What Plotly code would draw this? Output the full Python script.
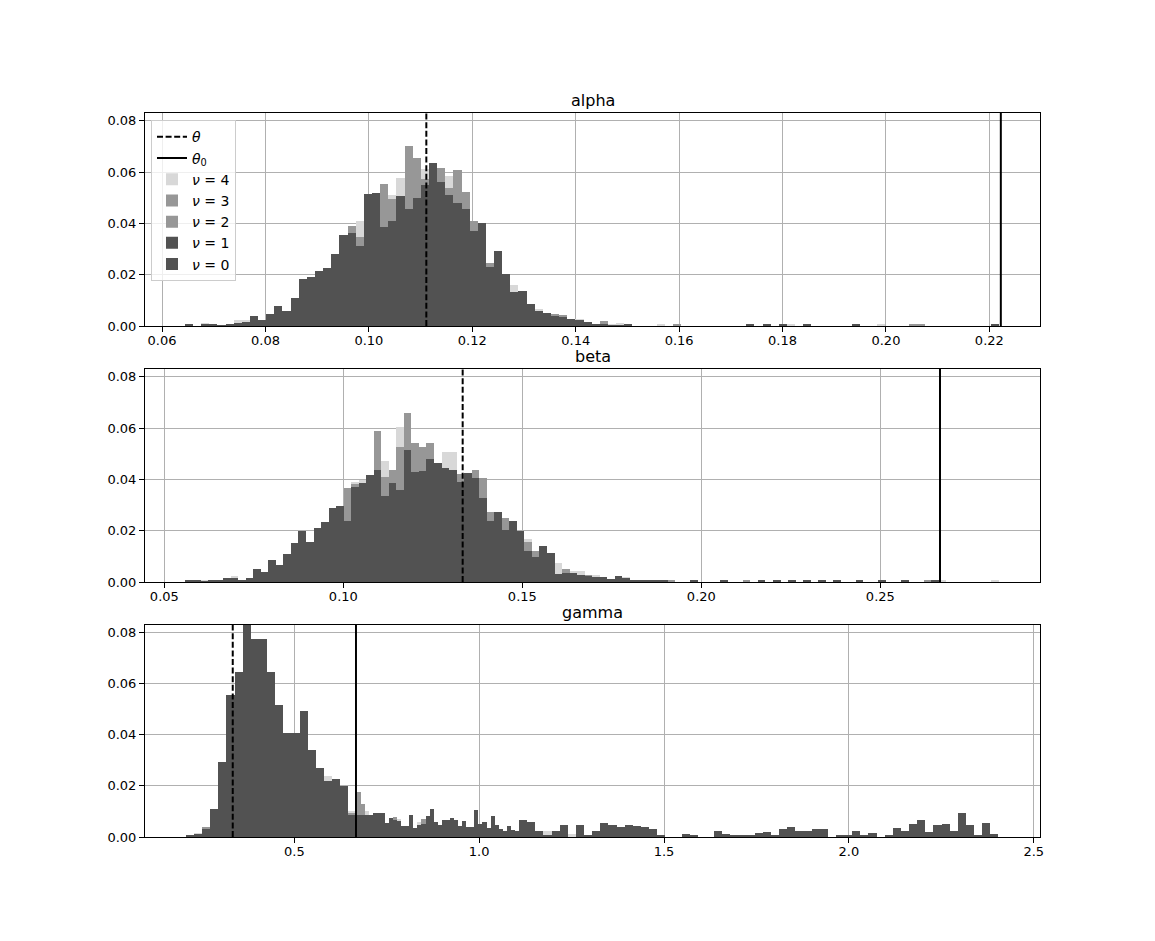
import plotly.graph_objects as go

# ---------------- data ----------------
params = ["alpha", "beta", "gamma"]
theta = [1 / 9, 2 / 15, 1 / 3]          # dashed line
theta0 = [2 / 9, 4 / 15, 2 / 3]         # solid line
nu_labels = ["4", "3", "2", "1", "0"]

x_ticks_alpha = [0.06, 0.08, 0.10, 0.12, 0.14, 0.16, 0.18, 0.20, 0.22]
x_ticks_beta = [0.05, 0.10, 0.15, 0.20, 0.25]
x_ticks_gamma = [0.5, 1.0, 1.5, 2.0, 2.5]
y_ticks = [0.00, 0.02, 0.04, 0.06, 0.08]

# histogram bin grids: (first edge, bin width)
alpha_bins = (0.0644, 0.001574)
beta_bins = (0.0559, 0.002104)
gamma_bins_wide = (0.2065, 0.02198)
gamma_bins_narrow = (0.2065, 0.01099)

alpha_nu0 = [
    0.0004, 0.0000, 0.0004, 0.0007, 0.0003, 0.0004, 0.0010, 0.0017, 0.0039, 0.0023,
    0.0046, 0.0078, 0.0058, 0.0110, 0.0185, 0.0190, 0.0215, 0.0227, 0.0281, 0.0356,
    0.0364, 0.0310, 0.0516, 0.0520, 0.0384, 0.0408, 0.0506, 0.0457, 0.0499, 0.0549,
    0.0637, 0.0560, 0.0510, 0.0480, 0.0457, 0.0369, 0.0401, 0.0228, 0.0293, 0.0202,
    0.0134, 0.0137, 0.0085, 0.0060, 0.0050, 0.0040, 0.0034, 0.0028, 0.0022, 0.0016,
    0.0008, 0.0006, 0.0002, 0.0001, 0.0004, 0, 0, 0, 0, 0,
    0, 0, 0, 0, 0, 0, 0, 0, 0, 0.0004,
    0, 0.0004, 0, 0.0004, 0, 0, 0.0004, 0, 0, 0,
    0, 0, 0.0008, 0, 0, 0, 0, 0, 0, 0,
    0, 0, 0, 0, 0, 0, 0, 0, 0, 0.0004,
]
alpha_nu1 = list(alpha_nu0)
alpha_nu3 = [
    0.0004, 0.0000, 0.0004, 0.0007, 0.0003, 0.0004, 0.0010, 0.0017, 0.0039, 0.0023,
    0.0046, 0.0078, 0.0058, 0.0110, 0.0185, 0.0190, 0.0215, 0.0227, 0.0281, 0.0356,
    0.0391, 0.0347, 0.0516, 0.0520, 0.0555, 0.0493, 0.0506, 0.0701, 0.0653, 0.0573,
    0.0637, 0.0614, 0.0538, 0.0606, 0.0522, 0.0410, 0.0401, 0.0245, 0.0293, 0.0202,
    0.0134, 0.0137, 0.0085, 0.0060, 0.0050, 0.0046, 0.0043, 0.0028, 0.0022, 0.0016,
    0.0008, 0.0020, 0.0002, 0.0001, 0.0004, 0, 0, 0, 0, 0,
    0.0007, 0, 0, 0, 0, 0, 0, 0, 0, 0.0004,
    0, 0.0004, 0, 0.0004, 0, 0, 0.0004, 0, 0, 0,
    0, 0, 0.0008, 0, 0, 0, 0, 0, 0, 0.0004,
    0.0008, 0, 0, 0, 0, 0, 0, 0, 0, 0.0004,
]
alpha_nu2 = list(alpha_nu3)
alpha_nu4 = [
    0.0004, 0.0000, 0.0010, 0.0007, 0.0003, 0.0004, 0.0023, 0.0023, 0.0039, 0.0023,
    0.0046, 0.0078, 0.0058, 0.0110, 0.0185, 0.0190, 0.0215, 0.0227, 0.0281, 0.0356,
    0.0364, 0.0410, 0.0516, 0.0520, 0.0384, 0.0512, 0.0575, 0.0457, 0.0499, 0.0612,
    0.0637, 0.0560, 0.0584, 0.0480, 0.0457, 0.0369, 0.0401, 0.0228, 0.0293, 0.0202,
    0.0158, 0.0137, 0.0085, 0.0065, 0.0050, 0.0040, 0.0034, 0.0028, 0.0026, 0.0016,
    0.0008, 0.0006, 0.0005, 0.0013, 0.0004, 0, 0, 0, 0.0004, 0,
    0, 0, 0, 0, 0, 0, 0, 0, 0, 0.0004,
    0, 0.0004, 0, 0.0004, 0.0004, 0, 0.0004, 0, 0, 0,
    0, 0, 0.0008, 0, 0, 0.0004, 0, 0, 0, 0,
    0, 0, 0, 0, 0, 0, 0, 0, 0, 0.0004,
]

beta_nu0 = [
    0.0009, 0.0009, 0.0003, 0.0005, 0.0005, 0.0016, 0.0014, 0.0007, 0.0016, 0.0052,
    0.0039, 0.0084, 0.0068, 0.0110, 0.0153, 0.0199, 0.0157, 0.0211, 0.0232, 0.0288,
    0.0297, 0.0238, 0.0370, 0.0385, 0.0418, 0.0437, 0.0336, 0.0385, 0.0359, 0.0515,
    0.0428, 0.0433, 0.0480, 0.0463, 0.0446, 0.0437, 0.0389, 0.0424, 0.0405, 0.0327,
    0.0236, 0.0271, 0.0203, 0.0238, 0.0200, 0.0121, 0.0099, 0.0141, 0.0114, 0.0030,
    0.0035, 0.0035, 0.0029, 0.0025, 0.0020, 0.0020, 0.0010, 0.0025, 0.0015, 0.0007,
    0.0009, 0.0009, 0.0008, 0.0009, 0, 0, 0, 0.0005, 0, 0,
    0, 0.0005, 0, 0, 0, 0, 0.0005, 0, 0.0005, 0,
    0.0009, 0, 0.0005, 0, 0.0005, 0, 0.0005, 0, 0, 0.0005,
    0, 0, 0.0005, 0, 0, 0.0005, 0, 0, 0, 0.0005,
]
beta_nu1 = list(beta_nu0)
beta_nu3 = [
    0.0009, 0.0009, 0.0003, 0.0005, 0.0005, 0.0016, 0.0014, 0.0007, 0.0016, 0.0052,
    0.0039, 0.0084, 0.0068, 0.0110, 0.0153, 0.0199, 0.0157, 0.0211, 0.0232, 0.0288,
    0.0297, 0.0366, 0.0381, 0.0385, 0.0418, 0.0589, 0.0410, 0.0437, 0.0528, 0.0658,
    0.0541, 0.0526, 0.0541, 0.0463, 0.0446, 0.0437, 0.0420, 0.0424, 0.0437, 0.0405,
    0.0272, 0.0271, 0.0249, 0.0238, 0.0200, 0.0157, 0.0121, 0.0141, 0.0114, 0.0030,
    0.0052, 0.0035, 0.0029, 0.0029, 0.0020, 0.0020, 0.0010, 0.0025, 0.0015, 0.0007,
    0.0009, 0.0009, 0.0008, 0.0009, 0.0007, 0, 0, 0.0005, 0, 0,
    0, 0, 0, 0, 0.0009, 0, 0, 0, 0, 0,
    0, 0, 0, 0, 0, 0, 0, 0, 0, 0,
    0, 0, 0, 0, 0, 0, 0, 0, 0.0009, 0,
]
beta_nu2 = list(beta_nu3)
beta_nu4 = [
    0.0009, 0.0009, 0.0007, 0.0005, 0.0005, 0.0016, 0.0022, 0.0007, 0.0016, 0.0052,
    0.0039, 0.0084, 0.0068, 0.0110, 0.0153, 0.0199, 0.0157, 0.0211, 0.0232, 0.0288,
    0.0297, 0.0238, 0.0388, 0.0397, 0.0418, 0.0437, 0.0470, 0.0385, 0.0604, 0.0515,
    0.0428, 0.0433, 0.0480, 0.0463, 0.0505, 0.0505, 0.0389, 0.0424, 0.0405, 0.0327,
    0.0236, 0.0271, 0.0203, 0.0238, 0.0200, 0.0167, 0.0099, 0.0141, 0.0114, 0.0075,
    0.0035, 0.0044, 0.0044, 0.0025, 0.0027, 0.0020, 0.0010, 0.0025, 0.0020, 0.0007,
    0.0009, 0.0009, 0.0008, 0.0009, 0.0007, 0, 0, 0, 0, 0,
    0, 0, 0, 0, 0, 0, 0, 0, 0, 0,
    0, 0, 0, 0, 0, 0, 0, 0, 0, 0,
    0, 0, 0, 0, 0, 0, 0, 0, 0, 0,
    0.0005, 0, 0, 0, 0, 0, 0, 0.0005,
]

gamma_nu0 = [
    0.0005, 0.0012, 0.0031, 0.0111, 0.0292, 0.0556, 0.0645, 0.0860, 0.0776, 0.0776,
    0.0645, 0.0517, 0.0406, 0.0406, 0.0494, 0.0341, 0.0270, 0.0218, 0.0228, 0.0198,
    0.0085, 0.0085, 0.0085, 0.0093, 0.0055, 0.0066, 0.0044, 0.0042, 0.0035, 0.0050,
    0.0056, 0.0048, 0.0066, 0.0044, 0.0039, 0.0038, 0.0050, 0.0035, 0.0030, 0.0022,
    0.0022, 0.0068, 0.0060, 0.0025, 0.0005, 0.0025, 0.0048, 0.0000, 0.0048, 0.0007,
    0.0025, 0.0056, 0.0048, 0.0041, 0.0048, 0.0043, 0.0041, 0.0033, 0.0005, 0,
    0, 0.0013, 0.0005, 0, 0, 0.0025, 0.0013, 0.0009, 0.0009, 0.0009,
    0.0017, 0.0021, 0.0005, 0.0033, 0.0041, 0.0025, 0.0025, 0.0033, 0.0033, 0,
    0.0009, 0.0009, 0.0025, 0.0009, 0.0017, 0, 0.0005, 0.0037, 0.0025, 0.0052,
    0.0068, 0.0021, 0.0048, 0.0052, 0.0025, 0.0094, 0.0048, 0.0009, 0.0055, 0.0013,
]
gamma_nu1 = [
    0.0002, 0.0003, 0.0005, 0.0006, 0.0014, 0.0016, 0.0048, 0.0060, 0.0135, 0.0150,
    0.0270, 0.0290, 0.0320, 0.0330, 0.0420, 0.0410, 0.0380, 0.0395, 0.0385, 0.0370,
    0.0330, 0.0310, 0.0265, 0.0245, 0.0210, 0.0195, 0.0200, 0.0190, 0.0235, 0.0225,
    0.0170, 0.0160, 0.0135, 0.0125, 0.0110, 0.0100, 0.0105, 0.0110, 0.0095, 0.0090,
    0.0060, 0.0070, 0.0087, 0.0087, 0.0087, 0.0087, 0.0095, 0.0095, 0.0094, 0.0055,
    0.0074, 0.0068, 0.0061, 0.0044, 0.0042, 0.0087, 0.0035, 0.0048, 0.0051, 0.0083,
    0.0110, 0.0057, 0.0048, 0.0068, 0.0068, 0.0074, 0.0068, 0.0044, 0.0064, 0.0039,
    0.0039, 0.0106, 0.0052, 0.0060, 0.0036, 0.0083, 0.0048, 0.0031, 0.0022, 0.0042,
    0.0029, 0.0023, 0.0029, 0.0013, 0.0030, 0.0030, 0.0022, 0.0020, 0.0004, 0.0003,
    0.0012, 0.0010, 0.0024, 0.0022, 0, 0, 0.0024, 0.0020, 0.0004, 0.0003,
]
gamma_nu3 = [
    0.0002, 0.0003, 0.0005, 0.0006, 0.0039, 0.0039, 0.0048, 0.0060, 0.0135, 0.0150,
    0.0270, 0.0290, 0.0320, 0.0330, 0.0420, 0.0410, 0.0380, 0.0395, 0.0385, 0.0370,
    0.0330, 0.0310, 0.0265, 0.0245, 0.0210, 0.0195, 0.0200, 0.0190, 0.0235, 0.0225,
    0.0170, 0.0160, 0.0135, 0.0125, 0.0110, 0.0100, 0.0105, 0.0110, 0.0095, 0.0090,
    0.0094, 0.0094, 0.0176, 0.0129, 0.0087, 0.0087, 0.0095, 0.0095, 0.0094, 0.0055,
    0.0074, 0.0077, 0.0061, 0.0044, 0.0042, 0.0087, 0.0035, 0.0048, 0.0070, 0.0083,
    0.0110, 0.0057, 0.0048, 0.0068, 0.0068, 0.0074, 0.0068, 0.0044, 0.0064, 0.0039,
    0.0039, 0.0106, 0.0052, 0.0060, 0.0036, 0.0083, 0.0048, 0.0031, 0.0022, 0.0042,
    0.0029, 0.0023, 0.0029, 0.0013, 0.0030, 0.0030, 0.0022, 0.0020, 0.0004, 0.0003,
    0.0012, 0.0010, 0.0024, 0.0022, 0, 0, 0.0024, 0.0020, 0.0004, 0.0003,
]
gamma_nu2 = list(gamma_nu3)
gamma_nu4 = [
    0.0002, 0.0003, 0.0015, 0.0015, 0.0014, 0.0016, 0.0048, 0.0060, 0.0135, 0.0150,
    0.0270, 0.0290, 0.0320, 0.0330, 0.0420, 0.0410, 0.0380, 0.0395, 0.0385, 0.0370,
    0.0330, 0.0310, 0.0265, 0.0245, 0.0210, 0.0195, 0.0200, 0.0190, 0.0235, 0.0225,
    0.0170, 0.0160, 0.0135, 0.0125, 0.0240, 0.0240, 0.0105, 0.0110, 0.0095, 0.0090,
    0.0103, 0.0103, 0.0087, 0.0087, 0.0100, 0.0087, 0.0095, 0.0095, 0.0094, 0.0055,
    0.0074, 0.0068, 0.0072, 0.0044, 0.0042, 0.0087, 0.0035, 0.0057, 0.0051, 0.0083,
    0.0110, 0.0057, 0.0048, 0.0068, 0.0068, 0.0074, 0.0068, 0.0044, 0.0064, 0.0039,
    0.0039, 0.0106, 0.0052, 0.0060, 0.0036, 0.0083, 0.0048, 0.0031, 0.0022, 0.0042,
    0.0029, 0.0023, 0.0032, 0.0013, 0.0030, 0.0030, 0.0022, 0.0020, 0.0025, 0.0025,
    0.0012, 0.0010, 0.0024, 0.0022, 0.0013, 0.0013, 0.0024, 0.0020, 0.0004, 0.0003,
]

# ---------------- figure ----------------
series = {
    "alpha": [(alpha_nu4, alpha_bins), (alpha_nu3, alpha_bins), (alpha_nu2, alpha_bins),
              (alpha_nu1, alpha_bins), (alpha_nu0, alpha_bins)],
    "beta": [(beta_nu4, beta_bins), (beta_nu3, beta_bins), (beta_nu2, beta_bins),
             (beta_nu1, beta_bins), (beta_nu0, beta_bins)],
    "gamma": [(gamma_nu4, gamma_bins_narrow), (gamma_nu3, gamma_bins_narrow),
              (gamma_nu2, gamma_bins_narrow), (gamma_nu1, gamma_bins_narrow),
              (gamma_nu0, gamma_bins_wide)],
}
x_ticks = [x_ticks_alpha, x_ticks_beta, x_ticks_gamma]
x_ranges = [[0.0567, 0.2298], [0.0446, 0.2946], [0.096, 2.517]]
tick_fmt = [".2f", ".2f", ".1f"]
y_domains = [[0.7058, 1.0], [0.3522, 0.6464], [0.0, 0.2928]]
Y_MAX = 0.0830

colors = ["#d8d8d8", "#979797", "#979797", "#525252", "#525252"]
FONT = "DejaVu Sans, Liberation Sans, sans-serif"

fig = go.Figure()

for p, name in enumerate(params):
    ax = "" if p == 0 else str(p + 1)
    for s, (heights, (start, width)) in enumerate(series[name]):
        centers = [start + width * (i + 0.5) for i in range(len(heights))]
        fig.add_trace(go.Bar(
            x=centers, y=heights, width=width,
            marker=dict(color=colors[s], line=dict(width=0)),
            name="<i>ν</i> = " + nu_labels[s],
            legendrank=3 + s, showlegend=(p == 0),
            xaxis="x" + ax, yaxis="y" + ax, hoverinfo="skip",
        ))
    fig.add_trace(go.Scatter(
        x=[theta[p], theta[p]], y=[0, Y_MAX], mode="lines",
        line=dict(color="black", width=2, dash="6px,2.6px"),
        name="<i>θ</i>", legendrank=1, showlegend=(p == 0),
        xaxis="x" + ax, yaxis="y" + ax, hoverinfo="skip",
    ))
    fig.add_trace(go.Scatter(
        x=[theta0[p], theta0[p]], y=[0, Y_MAX], mode="lines",
        line=dict(color="black", width=2),
        name="<i>θ</i><sub>0</sub>", legendrank=2, showlegend=(p == 0),
        xaxis="x" + ax, yaxis="y" + ax, hoverinfo="skip",
    ))

axis_style = dict(
    showline=True, linecolor="black", linewidth=1, mirror=True,
    ticks="outside", ticklen=5, tickwidth=1, tickcolor="black",
    showgrid=True, gridcolor="#b0b0b0", gridwidth=0.8,
    zeroline=False, layer="above traces",
    tickfont=dict(family=FONT, size=13, color="black"),
)

layout = dict(
    width=1155, height=941,
    margin=dict(l=145, r=115, t=113, b=104, pad=0),
    paper_bgcolor="white", plot_bgcolor="white",
    barmode="overlay", bargap=0,
    font=dict(family=FONT, size=13, color="black"),
    showlegend=True,
    legend=dict(
        x=0.0067, y=0.990, xanchor="left", yanchor="top",
        bgcolor="rgba(255,255,255,0.8)", bordercolor="#cccccc", borderwidth=1,
        font=dict(family=FONT, size=14, color="black"),
        tracegroupgap=0, itemwidth=30, traceorder="normal",
    ),
    annotations=[],
)

for p, name in enumerate(params):
    ax = "" if p == 0 else str(p + 1)
    layout["xaxis" + ax] = dict(
        axis_style, domain=[0, 1], anchor="y" + ax, range=x_ranges[p],
        tickvals=x_ticks[p], tickformat=tick_fmt[p], ticklabelstandoff=-3,
    )
    layout["yaxis" + ax] = dict(
        axis_style, domain=y_domains[p], anchor="x" + ax, range=[0, Y_MAX],
        tickvals=y_ticks, tickformat=".2f",
    )
    layout["annotations"].append(dict(
        text=name, x=0.5, xref="paper", y=y_domains[p][1], yref="paper",
        xanchor="center", yanchor="bottom", yshift=1, showarrow=False,
        font=dict(family=FONT, size=16, color="black"),
    ))

fig.update_layout(**layout)
fig.write_html("out.html", config={"displayModeBar": False},
               post_script="document.body.style.margin='0';")
